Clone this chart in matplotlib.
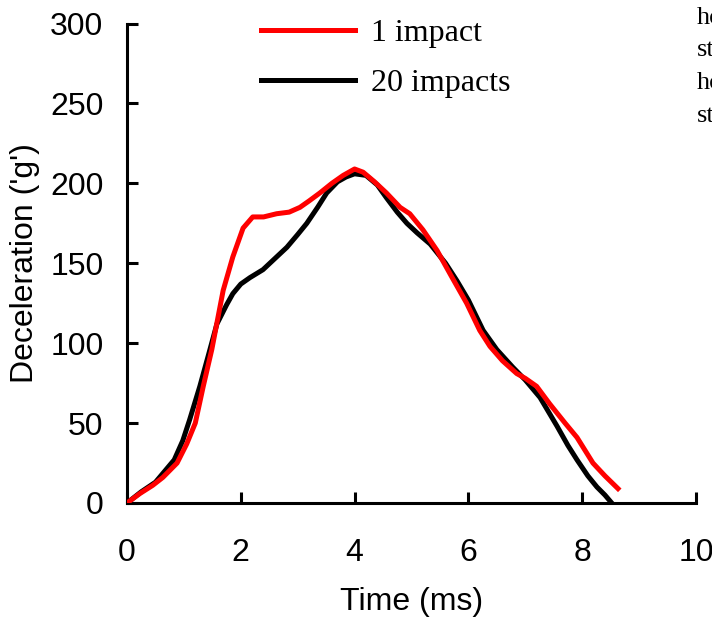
import matplotlib
matplotlib.use("Agg")
import matplotlib.pyplot as plt

# 1 impact (red)
t_one = [0, 0.23, 0.45, 0.63, 0.88, 1.05, 1.2, 1.34, 1.49, 1.69, 1.86, 2.04,
         2.21, 2.4, 2.63, 2.85, 3.04, 3.2, 3.39, 3.6, 3.8, 4.0, 4.15, 4.35,
         4.56, 4.8, 4.97, 5.2, 5.45, 5.7, 5.97, 6.2, 6.38, 6.6, 6.85, 7.0,
         7.2, 7.43, 7.7, 7.91, 8.19, 8.4, 8.63]
g_one = [0, 6, 11, 16, 25, 37, 50, 73, 96, 133, 154, 172,
         179, 179, 181, 182, 185, 189, 194, 200, 205, 209, 207, 201,
         194, 185, 181, 171, 158, 142, 125, 108, 98, 89, 81, 78,
         73, 62, 50, 41, 25, 17, 9]

# 20 impacts (black)
t_twenty = [0, 0.25, 0.5, 0.83, 0.98, 1.1, 1.28, 1.45, 1.58, 1.75, 1.86, 2.0,
            2.16, 2.39, 2.6, 2.81, 3.0, 3.16, 3.35, 3.51, 3.7, 3.85, 4.0, 4.2,
            4.4, 4.56, 4.75, 4.92, 5.1, 5.33, 5.6, 5.8, 6.0, 6.26, 6.5, 6.78,
            7.0, 7.26, 7.56, 7.75, 7.91, 8.1, 8.26, 8.4, 8.52]
g_twenty = [0, 7, 13, 27, 39, 52, 73, 95, 112, 124, 131, 137,
            141, 146, 153, 160, 168, 175, 185, 194, 201, 204, 206, 205,
            199, 191, 182, 175, 169, 162, 150, 139, 127, 108, 96, 85,
            77, 66, 48, 36, 27, 17, 10, 5, 0]

x_ticks = [0, 2, 4, 6, 8, 10]
y_ticks = [0, 50, 100, 150, 200, 250, 300]

fig = plt.figure(figsize=(7.12, 6.17), dpi=100)
ax = fig.add_axes([0.1784, 0.1848, 0.799, 0.777])

ax.plot(t_one, g_one, color="#ff0000", lw=3.6, label="1 impact", zorder=3,
        solid_joinstyle="round")
ax.plot(t_twenty, g_twenty, color="black", lw=3.6, label="20 impacts",
        zorder=2, solid_joinstyle="round")

ax.set_xlim(0, 10)
ax.set_ylim(0, 300)
ax.set_xticks(x_ticks)
ax.set_yticks(y_ticks)
for s in ["top", "right"]:
    ax.spines[s].set_visible(False)
for s in ["left", "bottom"]:
    ax.spines[s].set_linewidth(2.2)
ax.tick_params(axis="both", direction="in", length=8, width=2.2,
               labelsize=23)
ax.tick_params(axis="x", pad=25)
ax.tick_params(axis="y", pad=17)
for lab in ax.get_xticklabels() + ax.get_yticklabels():
    lab.set_fontfamily("Liberation Sans")

ax.set_xlabel("Time (ms)", fontsize=23, family="Liberation Sans", labelpad=14)
ax.set_ylabel("Deceleration ('g')", fontsize=23, family="Liberation Sans",
              labelpad=7)

leg = ax.legend(loc="upper left", bbox_to_anchor=(0.185, 1.07),
                frameon=False, prop={"family": "Liberation Serif", "size": 23},
                handlelength=2.95, handletextpad=0.5, labelspacing=0.65)
for line in leg.get_lines():
    line.set_linewidth(3.6)

# clipped text at the top right edge
side_words = ["ho", "st", "ho", "st"]
for i, w in enumerate(side_words):
    fig.text(0.979, 1 - (18 + 32.5 * i) / 617, w, fontsize=19,
             family="Liberation Serif", va="center", ha="left")

fig.savefig("out.png", dpi=100)
